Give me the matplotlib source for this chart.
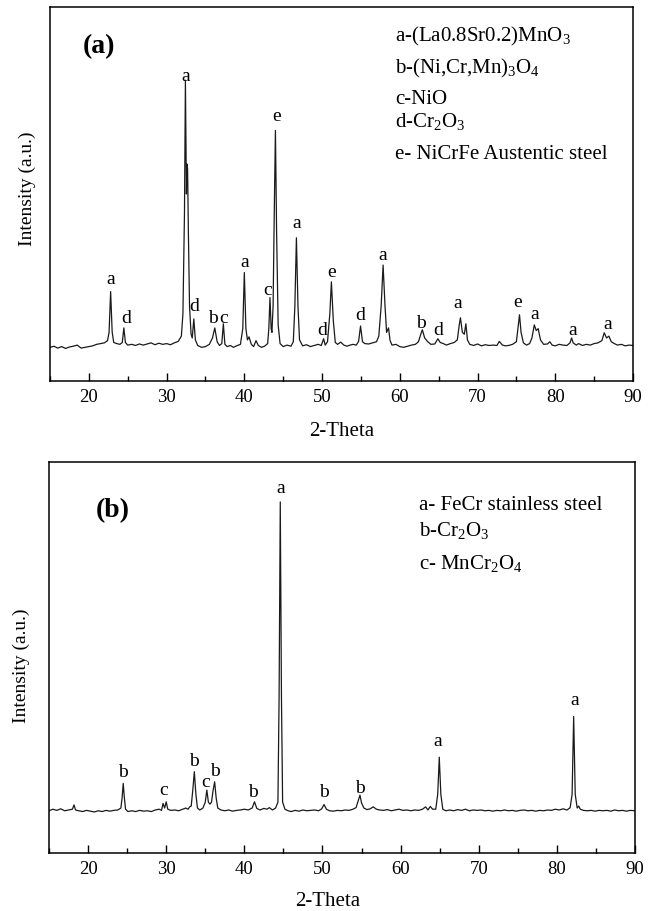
import matplotlib
matplotlib.use("Agg")
import matplotlib.pyplot as plt
from matplotlib.ticker import MultipleLocator

plt.rcParams['font.family'] = ['Liberation Serif', 'DejaVu Serif']
plt.rcParams['mathtext.fontset'] = 'custom'
plt.rcParams['mathtext.rm'] = 'Liberation Serif'

# ---------------- Panel (a) trace: (2-theta, intensity a.u.) ----------------
x_a = [15, 15.5, 16, 16.5, 17, 17.5, 18, 18.5, 19, 19.5, 20, 20.5, 21, 21.5, 22, 22.4, 22.6, 22.8, 23.0, 23.2,
       23.6, 24.0, 24.3, 24.5, 24.7, 25.0, 25.5, 26, 26.5, 27, 27.5, 28, 28.5, 29, 29.5, 30, 30.5, 31, 31.5, 31.9,
       32.1, 32.3, 32.42, 32.55, 32.62, 32.7, 32.8, 32.95, 33.15, 33.3, 33.5, 33.7, 34.0, 34.5, 35.0, 35.5, 35.9,
       36.2, 36.5, 36.8, 37.1, 37.3, 37.5, 37.8, 38.2, 38.6, 39.0, 39.5, 39.8, 40.0, 40.2, 40.4, 40.6, 40.9, 41.2,
       41.5, 41.8, 42.2, 42.6, 43.0, 43.15, 43.3, 43.45, 43.55, 43.7, 43.85, 44.0, 44.15, 44.35, 44.6, 45, 45.5,
       46.0, 46.3, 46.5, 46.7, 46.9, 47.1, 47.5, 48, 48.5, 49, 49.5, 49.9, 50.2, 50.4, 50.7, 51.0, 51.2, 51.45,
       51.7, 52, 52.4, 52.8, 53.2, 53.6, 54, 54.4, 54.7, 54.95, 55.2, 55.5, 56, 56.5, 57.0, 57.3, 57.6, 57.85,
       58.1, 58.3, 58.55, 58.75, 59.0, 59.5, 60, 60.5, 61, 61.5, 62, 62.4, 62.7, 62.9, 63.2, 63.6, 64, 64.5, 64.9,
       65.2, 65.6, 66, 66.5, 67, 67.4, 67.65, 67.8, 68.05, 68.3, 68.5, 68.7, 69.0, 69.5, 70, 70.5, 71, 71.5, 72,
       72.5, 72.8, 73.2, 73.6, 74.0, 74.5, 75.0, 75.2, 75.4, 75.6, 75.9, 76.3, 76.7, 77.0, 77.3, 77.55, 77.8,
       78.1, 78.5, 79, 79.3, 79.6, 80, 80.5, 81, 81.5, 81.9, 82.1, 82.3, 82.7, 83, 83.5, 84, 84.5, 85, 85.5, 86.0,
       86.3, 86.6, 86.9, 87.2, 87.6, 88, 88.5, 89, 89.5, 90]
y_a = [9.0, 9.3, 8.8, 9.2, 8.7, 9.1, 9.3, 9.6, 8.8, 9.0, 9.2, 9.4, 9.8, 10.0, 10.2, 10.8, 13, 23.9, 13, 10.3,
       10.0, 9.8, 10.3, 14.2, 10.3, 9.6, 9.8, 9.5, 9.9, 9.6, 9.9, 10.2, 9.7, 10.1, 9.8, 10.0, 9.7, 10.2, 10.6, 12,
       18, 45, 80.4, 50, 58, 56.8, 40, 20, 12.5, 11.5, 16.6, 11, 9.5, 9.0, 9.2, 9.8, 11.5,
       14.2, 10.5, 9.5, 10, 15.3, 9.8, 9.2, 9.5, 9.0, 9.4, 9.8, 14, 29, 14, 11, 11.8, 9.8, 9.2,
       10.8, 9.5, 9.0, 9.3, 10.0, 14, 22.3, 14, 13, 20, 45, 67, 40, 15, 10, 9.2, 9.6,
       9.3, 10.5, 20, 38.3, 20, 11, 9.4, 9.7, 9.2, 9.5, 9.8, 9.5, 11.3, 9.6, 10.5, 18, 26.5, 16,
       10.3, 9.8, 10.4, 9.6, 9.3, 9.6, 9.8, 9.6, 10.6, 14.7, 10.5, 10.0, 9.9, 10.2, 10.5, 12, 20, 31,
       20, 13, 14.2, 10.8, 9.6, 9.8, 9.2, 9.0, 9.3, 9.6, 9.8, 10.5, 12.5, 13.7, 11.5, 10.5, 9.8, 9.9, 11.3,
       10.3, 10.0, 9.6, 10.0, 10.3, 11, 15, 16.9, 13, 12.5, 15.3, 11, 9.8, 9.5, 9.9, 9.4, 9.7, 9.5, 9.6,
       9.5, 10.6, 9.6, 9.4, 9.5, 9.8, 10.5, 14, 17.7, 13, 10.2, 9.6, 10.0, 11.5, 15, 13.5, 14,
       11, 9.8, 9.9, 10.5, 9.6, 9.4, 9.8, 9.6, 9.5, 10.2, 11.5, 10.2, 9.6, 10, 9.5, 9.8, 9.6, 10, 10.2, 10.8,
       12.9, 11.5, 12, 10.5, 10.0, 9.6, 9.8, 9.4, 9.6, 9.5]

# peak labels panel (a)
lab_a_txt = ['a', 'd', 'a', 'd', 'b', 'c', 'a', 'c', 'e', 'a', 'd', 'e', 'd', 'a', 'b', 'd', 'a', 'e', 'a', 'a', 'a']
lab_a_x = [22.8, 24.8, 32.4, 33.6, 36.0, 37.3, 40.06, 43.0, 44.1, 46.7, 50.0, 51.2, 54.9, 57.8, 62.75, 65.0,
           67.5, 75.2, 77.3, 82.3, 86.7]
lab_a_y = [27.1, 16.6, 81.5, 19.8, 16.6, 16.6, 31.7, 24.1, 70.6, 42.0, 13.6, 29.0, 17.6, 33.5, 15.4, 13.4,
           20.7, 21.0, 17.7, 13.6, 15.2]
legend_a = [r'a-(La0.8Sr0.2)MnO$_3$', r'b-(Ni,Cr,Mn)$_3$O$_4$', 'c-NiO', r'd-Cr$_2$O$_3$',
            'e- NiCrFe Austentic steel']

# ---------------- Panel (b) trace ----------------
x_b = [15, 15.5, 16, 16.5, 17, 17.5, 18.0, 18.2, 18.4, 18.8, 19.3, 19.8, 20.3, 20.8, 21.3, 21.8, 22.3, 22.8,
       23.3, 23.8, 24.2, 24.35, 24.5, 24.65, 24.8, 25.1, 25.6, 26.1, 26.6, 27.1, 27.6, 28.1, 28.6, 29.1, 29.4,
       29.6, 29.8, 30.0, 30.2, 30.6, 31.1, 31.6, 32.1, 32.5, 32.8, 33.0, 33.2, 33.4, 33.6, 33.8, 34.0, 34.3,
       34.7, 35.0, 35.2, 35.4, 35.6, 35.8, 36.0, 36.2, 36.4, 36.6, 37, 37.5, 38, 38.5, 39, 39.5, 40.0, 40.5,
       41.0, 41.3, 41.6, 42.0, 42.5, 42.9, 43.2, 43.6, 44.0, 44.3, 44.45, 44.6, 44.75, 44.9, 45.2, 45.6, 46.0,
       46.5, 47, 47.5, 48, 48.5, 49, 49.5, 49.9, 50.2, 50.5, 50.9, 51.4, 51.9, 52.4, 52.9, 53.4, 53.9, 54.3,
       54.6, 54.8, 55.0, 55.3, 55.7, 56.1, 56.5, 56.9, 57.3, 57.8, 58.3, 58.8, 59.3, 59.8, 60.3, 60.8, 61.3,
       61.8, 62.3, 62.8, 63.2, 63.5, 63.8, 64.1, 64.5, 64.75, 64.95, 65.15, 65.4, 65.8, 66.3, 66.8, 67.3, 67.8,
       68.3, 68.8, 69.3, 69.8, 70.3, 70.8, 71.3, 71.8, 72.3, 72.8, 73.3, 73.8, 74.3, 74.8, 75.3, 75.8, 76.3,
       76.8, 77.3, 77.8, 78.3, 78.8, 79.3, 79.8, 80.3, 80.8, 81.3, 81.7, 81.95, 82.15, 82.35, 82.6, 82.8, 83.0,
       83.4, 83.9, 84.4, 84.9, 85.4, 85.9, 86.4, 86.9, 87.4, 87.9, 88.4, 88.9, 89.4, 90]
y_b = [10.8, 11.2, 10.9, 11.3, 10.8, 11.0, 11.2, 12.3, 11.0, 10.8, 10.6, 10.9, 10.7, 10.5, 10.8, 10.6, 10.9, 10.7,
       10.9, 11.0, 11.5, 14, 17.8, 14, 11.2, 10.6, 10.8, 10.6, 10.9, 10.7, 10.8, 10.6, 11.0, 11.2, 10.9,
       12.7, 11.5, 13.1, 11.2, 10.9, 11.0, 10.8, 11.2, 11.5, 11.2, 11.8, 12, 16, 20.8, 15, 11.5, 11.0,
       11.5, 13, 16.1, 13, 12.5, 13, 16, 18.2, 14, 11.5, 11.0, 10.8, 11.0, 10.7, 10.9, 11.0, 11.2, 11.0,
       11.5, 13.1, 11.4, 11.0, 11.4, 11.2, 11.6, 11.0, 11.5, 13, 40, 89.8, 40, 13, 11.2, 10.8, 10.6,
       10.9, 10.7, 11.0, 10.8, 10.9, 11.0, 10.8, 11.3, 12.4, 11.2, 10.8, 10.7, 10.9, 10.8, 11.0, 10.9, 11.2, 11.6,
       13.5, 14.8, 12.8, 11.5, 11.1, 11.3, 11.8, 11.2, 11.0, 10.9, 11.1, 10.8, 11.0, 11.2, 10.9, 11.0, 10.8,
       11.0, 10.9, 11.2, 11.8, 11.0, 11.9, 11.2, 11.2, 15, 24.5, 15, 11.2, 10.8, 11.0, 10.8, 11.1, 10.9,
       11.2, 10.8, 11.0, 10.9, 11.0, 10.8, 10.9, 10.7, 10.9, 10.8, 11.0, 10.8, 10.9, 10.7, 10.9, 11.0, 10.8,
       10.9, 10.7, 10.9, 10.8, 11.0, 10.9, 11.2, 11.0, 11.3, 11.0, 11.6, 15, 34.9, 15, 11.5, 12, 11.2,
       10.9, 10.8, 10.9, 10.7, 10.9, 10.8, 10.9, 10.7, 11.0, 10.8, 10.9, 10.7, 10.9, 10.8]

lab_b_txt = ['b', 'c', 'b', 'c', 'b', 'b', 'a', 'b', 'b', 'a', 'a']
lab_b_x = [24.5, 29.7, 33.6, 35.1, 36.3, 41.1, 44.7, 50.2, 54.8, 64.8, 82.3]
lab_b_y = [20.5, 15.9, 23.4, 18.0, 20.8, 15.5, 93.3, 15.6, 16.5, 28.5, 39.1]
legend_b = ['a- FeCr stainless steel', r'b-Cr$_2$O$_3$', r'c- MnCr$_2$O$_4$']

xticks = [20, 30, 40, 50, 60, 70, 80, 90]

W, H = 649, 911
fig = plt.figure(figsize=(W / 100, H / 100), dpi=100)


def make_axes(l, t, r, b):
    return fig.add_axes([l / W, 1 - b / H, (r - l) / W, (b - t) / H])


ax_a = make_axes(50, 7, 633, 381)
ax_b = make_axes(49, 462, 635, 853)

for ax, xs, ys, lt, lx, ly in [(ax_a, x_a, y_a, lab_a_txt, lab_a_x, lab_a_y),
                               (ax_b, x_b, y_b, lab_b_txt, lab_b_x, lab_b_y)]:
    ax.plot(xs, ys, color='#1a1a1a', lw=0.9)
    ax.set_xlim(15, 90)
    ax.set_ylim(0, 100)
    ax.set_xticks(xticks)
    ax.xaxis.set_minor_locator(MultipleLocator(5))
    ax.set_yticks([])
    ax.tick_params(axis='x', which='major', direction='in', length=5.8, width=1.0,
                   labelsize=13.5, pad=5.5, top=False)
    ax.tick_params(axis='x', which='minor', direction='in', length=3.6, width=1.0, top=False)
    for s in ax.spines.values():
        s.set_linewidth(1.1)
    for t, x, y in zip(lt, lx, ly):
        ax.text(x, y, t, ha='center', va='center', fontsize=14)

ax_a.text(0.084, 0.893, '(a)', transform=ax_a.transAxes, fontsize=20, fontweight='bold',
          ha='center', va='center')
ax_b.text(0.109, 0.875, '(b)', transform=ax_b.transAxes, fontsize=20, fontweight='bold',
          ha='center', va='center')

leg_a_y = [0.922, 0.836, 0.753, 0.692, 0.606]
for s, y in zip(legend_a, leg_a_y):
    ax_a.text(0.592, y, s, transform=ax_a.transAxes, fontsize=15, ha='left', va='center')
leg_b_y = [0.890, 0.822, 0.738]
for s, y in zip(legend_b, leg_b_y):
    ax_b.text(0.632, y, s, transform=ax_b.transAxes, fontsize=15, ha='left', va='center')

fig.text(27 / W, 1 - 189 / H, 'Intensity (a.u.)', rotation=90, ha='center', va='center', fontsize=14)
fig.text(21 / W, 1 - 666 / H, 'Intensity (a.u.)', rotation=90, ha='center', va='center', fontsize=14)
fig.text(342 / W, 1 - 432 / H, '2-Theta', ha='center', va='center', fontsize=15)
fig.text(328 / W, 1 - 902 / H, '2-Theta', ha='center', va='center', fontsize=15)

fig.savefig('out.png', dpi=100)
